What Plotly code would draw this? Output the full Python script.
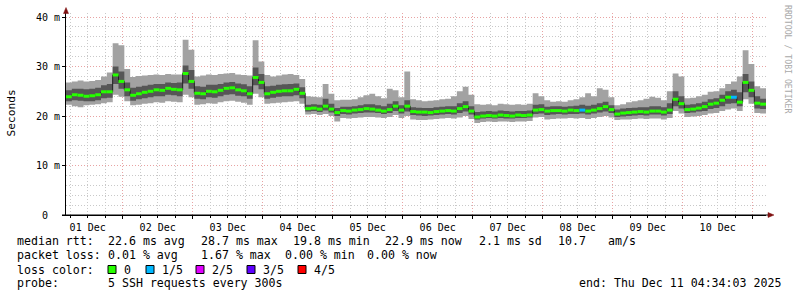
import pandas as pd
import plotly.graph_objects as go

# ---------------- data (milliseconds), 2-hour bins ----------------
start = "2025-12-01 04:34:03"
end = "2025-12-11 04:34:03"
bin_hours = 2

median_ms = [
    23.9, 24.3, 24.2, 24.0, 24.1, 24.3, 24.9, 24.9, 28.3, 27.0,
    25.3, 24.2, 24.5, 24.8, 25.0, 25.3, 25.2, 25.6, 25.4, 25.3,
    28.6, 27.0, 24.6, 24.5, 25.0, 24.9, 25.2, 25.6, 25.7, 25.3,
    25.1, 24.5, 27.8, 26.8, 24.5, 24.8, 25.0, 25.1, 25.1, 25.4,
    24.6, 21.5, 21.6, 21.4, 22.0, 21.4, 20.7, 21.1, 21.0, 21.2,
    21.3, 21.5, 21.4, 21.2, 21.0, 21.3, 22.0, 21.2, 22.0, 20.9,
    20.8, 20.8, 20.7, 20.9, 21.0, 21.1, 21.0, 21.5, 21.9, 21.0,
    19.8, 20.0, 20.1, 20.0, 20.2, 20.1, 20.0, 20.2, 20.1, 20.2,
    21.2, 21.3, 21.0, 21.1, 21.1, 21.0, 21.2, 21.1, 21.2, 21.0,
    21.2, 21.5, 21.9, 21.3, 20.4, 20.6, 20.7, 20.8, 20.9, 20.8,
    21.0, 21.0, 20.8, 21.2, 23.4, 22.5, 21.3, 21.4, 21.6, 21.9,
    22.4, 22.6, 23.2, 23.8, 23.8, 22.8, 26.8, 25.2, 22.6, 22.4,
]
ping_min_ms = [
    22.3, 22.0, 21.8, 22.2, 22.3, 22.4, 22.6, 22.8, 24.3, 23.9,
    23.0, 22.2, 22.3, 22.5, 22.6, 22.8, 22.7, 23.0, 22.9, 22.8,
    24.3, 23.8, 22.3, 22.4, 22.6, 22.5, 22.8, 23.0, 23.1, 22.9,
    22.7, 22.3, 24.5, 23.8, 22.5, 22.6, 22.7, 22.8, 22.9, 23.0,
    22.5, 20.3, 20.4, 20.2, 20.4, 20.0, 18.9, 19.6, 19.5, 19.6,
    19.7, 19.8, 19.8, 19.7, 19.6, 19.8, 20.2, 19.6, 20.0, 19.3,
    19.2, 19.2, 19.3, 19.4, 19.5, 19.6, 19.5, 19.7, 20.0, 19.4,
    18.6, 18.8, 18.9, 18.8, 18.9, 18.9, 18.8, 18.9, 18.9, 19.0,
    19.7, 19.8, 19.3, 19.4, 19.5, 19.5, 19.6, 19.5, 19.6, 19.4,
    19.6, 19.8, 20.0, 19.7, 19.2, 19.3, 19.3, 19.4, 19.5, 19.4,
    19.5, 19.5, 19.3, 19.6, 21.0, 20.5, 19.8, 19.9, 20.0, 20.2,
    20.5, 20.6, 21.0, 21.3, 21.5, 21.0, 23.4, 22.5, 20.6, 20.5,
]
ping_low_ms = [
    23.0, 23.2, 23.1, 23.0, 23.0, 23.2, 23.6, 23.7, 26.5, 25.5,
    24.0, 23.1, 23.4, 23.6, 23.8, 24.0, 24.0, 24.3, 24.2, 24.0,
    26.6, 25.5, 23.5, 23.4, 23.8, 23.7, 24.0, 24.3, 24.4, 24.1,
    24.0, 23.5, 26.2, 25.4, 23.5, 23.7, 23.9, 24.0, 24.0, 24.2,
    23.6, 20.9, 21.0, 20.8, 21.1, 20.7, 20.0, 20.4, 20.3, 20.5,
    20.6, 20.7, 20.7, 20.6, 20.4, 20.6, 21.0, 20.5, 20.9, 20.2,
    20.1, 20.0, 20.1, 20.2, 20.3, 20.4, 20.3, 20.6, 20.9, 20.3,
    19.3, 19.5, 19.6, 19.5, 19.6, 19.5, 19.5, 19.6, 19.6, 19.7,
    20.4, 20.5, 20.2, 20.3, 20.4, 20.3, 20.4, 20.4, 20.5, 20.3,
    20.5, 20.7, 20.9, 20.6, 19.8, 19.9, 20.0, 20.1, 20.2, 20.1,
    20.3, 20.3, 20.1, 20.4, 22.0, 21.5, 20.6, 20.7, 20.9, 21.0,
    21.4, 21.6, 22.0, 22.5, 22.6, 22.0, 24.8, 23.8, 21.5, 21.4,
]
ping_high_ms = [
    25.2, 25.5, 25.5, 25.4, 25.5, 25.7, 26.2, 26.5, 30.0, 29.0,
    26.8, 25.7, 25.9, 26.1, 26.3, 26.5, 26.5, 26.8, 26.7, 26.8,
    30.2, 29.3, 26.0, 25.9, 26.3, 26.3, 26.5, 26.8, 26.9, 26.6,
    26.4, 26.0, 29.8, 28.5, 26.0, 26.1, 26.3, 26.4, 26.5, 26.6,
    25.8, 22.3, 22.4, 22.3, 23.5, 22.5, 21.6, 21.9, 21.9, 22.0,
    22.2, 22.4, 22.4, 22.2, 22.0, 22.5, 23.0, 22.2, 23.2, 21.8,
    21.7, 21.6, 21.6, 21.8, 21.9, 22.0, 22.0, 22.6, 23.0, 22.0,
    20.8, 20.9, 21.0, 20.9, 21.1, 21.0, 20.9, 21.0, 21.0, 21.1,
    22.3, 22.4, 21.9, 22.0, 22.0, 21.9, 22.0, 22.1, 22.3, 22.1,
    22.3, 22.6, 22.9, 22.2, 21.3, 21.5, 21.6, 21.7, 21.8, 21.8,
    22.0, 22.0, 21.8, 22.6, 25.0, 24.0, 22.3, 22.4, 22.6, 22.9,
    23.4, 23.6, 24.3, 25.0, 25.3, 24.8, 28.5, 27.0, 24.0, 23.5,
]
ping_max_ms = [
    26.8, 27.0, 27.2, 27.0, 27.1, 27.3, 28.0, 28.8, 34.7, 34.3,
    29.5, 27.9, 28.1, 28.2, 28.3, 28.4, 28.3, 28.5, 28.4, 28.4,
    35.4, 33.4, 28.0, 28.2, 28.4, 28.3, 28.5, 28.6, 28.7, 28.4,
    28.3, 28.2, 35.3, 31.0, 28.3, 28.0, 28.2, 28.4, 28.5, 28.3,
    27.5, 24.0, 23.9, 23.8, 26.5, 24.5, 23.2, 23.3, 23.3, 23.4,
    23.8, 24.2, 24.5, 24.0, 23.6, 25.5, 25.2, 23.8, 29.0, 23.4,
    23.2, 23.0, 23.1, 23.2, 23.4, 23.5, 24.0, 25.0, 25.9, 24.3,
    22.4, 22.3, 22.4, 22.2, 22.5, 22.4, 22.3, 22.4, 22.3, 22.5,
    24.6, 24.0, 23.2, 22.9, 23.0, 22.9, 23.2, 23.4, 23.8, 24.6,
    24.0, 25.6, 25.3, 23.8, 22.2, 22.4, 22.8, 23.0, 23.2, 23.5,
    23.9, 23.7, 23.2, 25.0, 28.6, 28.0, 23.6, 23.7, 24.0, 24.3,
    24.9, 25.0, 25.6, 26.5, 27.0, 28.0, 33.3, 30.5, 26.0, 25.6,
]
# lost pings out of 5 per bin
loss_fifths = [0] * 120
loss_fifths[88] = 1
loss_fifths[114] = 1

loss_labels = ["0", "1/5", "2/5", "3/5", "4/5"]
loss_colors = ["#26ff00", "#00b8ff", "#e000ff", "#5e00ff", "#ff0000"]

y_tick_vals = [0, 10, 20, 30, 40]
y_tick_text = ["0\u00a0\u00a0", "10 m", "20 m", "30 m", "40 m"]

stats_rtt = ["22.6 ms avg", "28.7 ms max", "19.8 ms min", "22.9 ms now", "2.1 ms sd", "10.7", "am/s"]
stats_loss = ["0.01 % avg", "1.67 % max", "0.00 % min", "0.00 % now"]
probe_text = "5 SSH requests every 300s"
end_text = "end: Thu Dec 11 04:34:03 2025"

# ---------------- build ----------------
edges = pd.date_range(start, periods=len(median_ms) + 1, freq=f"{bin_hours}h")
ex = [e.strftime("%Y-%m-%d %H:%M:%S") for e in edges]


def step(vals):
    return ex, list(vals) + [vals[-1]]


LIGHT = "#a2a2a2"
DARK = "#565656"
MONO = "DejaVu Sans Mono"

fig = go.Figure()
# outer smoke
x, y = step(ping_min_ms)
fig.add_trace(go.Scatter(x=x, y=y, mode="lines", line=dict(width=0, shape="hv", color=LIGHT),
                         hoverinfo="skip", showlegend=False))
x, y = step(ping_max_ms)
fig.add_trace(go.Scatter(x=x, y=y, mode="lines", line=dict(width=0, shape="hv", color=LIGHT),
                         fill="tonexty", fillcolor=LIGHT, hoverinfo="skip", showlegend=False))
# inner smoke
x, y = step(ping_low_ms)
fig.add_trace(go.Scatter(x=x, y=y, mode="lines", line=dict(width=0, shape="hv", color=DARK),
                         hoverinfo="skip", showlegend=False))
x, y = step(ping_high_ms)
fig.add_trace(go.Scatter(x=x, y=y, mode="lines", line=dict(width=0, shape="hv", color=DARK),
                         fill="tonexty", fillcolor=DARK, hoverinfo="skip", showlegend=False))
# median thin line
x, y = step(median_ms)
fig.add_trace(go.Scatter(x=x, y=y, mode="lines", line=dict(width=1, shape="hv", color="#202020"),
                         hoverinfo="skip", showlegend=False))
# median loss-colored bars
for lvl, col in enumerate(loss_colors):
    xs, ys = [], []
    for i, m in enumerate(median_ms):
        if loss_fifths[i] == lvl:
            xs += [ex[i], ex[i + 1], None]
            ys += [m, m, None]
    if xs:
        fig.add_trace(go.Scatter(x=xs, y=ys, mode="lines", line=dict(width=3, color=col),
                                 hoverinfo="skip", showlegend=False))

# ---------------- layout ----------------
L, R, T, B = 66, 31, 13, 82
W, H = 797, 297
PW = W - L - R
PH = H - T - B
Y0 = H - B  # pixel y of plot bottom


def pxx(px):
    return (px - L) / PW


def pxy(py):
    return (Y0 - py) / PH


GRID_MINOR = "#c9c9c9"
GRID_MAJOR = "#e8a3a3"
DASH = "1px,2px"

fig.update_layout(
    width=W, height=H,
    margin=dict(l=L, r=R, t=T, b=B, pad=0),
    paper_bgcolor="white", plot_bgcolor="white",
    showlegend=False,
    xaxis=dict(
        type="date", range=[start, end],
        tick0="2025-12-01", dtick=86400000, tickformat="%d %b", ticklabelmode="period",
        showgrid=True, gridcolor=GRID_MAJOR, griddash=DASH, gridwidth=1,
        minor=dict(dtick=6 * 3600000, tick0="2025-12-01", showgrid=True, gridcolor=GRID_MINOR,
                   griddash=DASH, gridwidth=1, ticks="outside", ticklen=2, tickcolor="#000"),
        ticks="outside", ticklen=3, tickcolor="#000",
        showline=True, linecolor="#000", linewidth=1, zeroline=False,
        tickfont=dict(family=MONO, size=10, color="#000"),
    ),
    yaxis=dict(
        range=[0, 40 + 4 * 40.0 / (Y0 - 17 - 4)],
        tickvals=y_tick_vals, ticktext=y_tick_text,
        showgrid=True, gridcolor=GRID_MAJOR, griddash=DASH, gridwidth=1,
        minor=dict(dtick=2, tick0=0, showgrid=True, gridcolor=GRID_MINOR, griddash=DASH, gridwidth=1),
        ticks="outside", ticklen=3, tickcolor="#000",
        showline=True, linecolor="#000", linewidth=1, zeroline=False,
        tickfont=dict(family=MONO, size=10, color="#000"),
    ),
)

ann = []


def txt(s, px, py, size=11.6, anchor="left", color="#000", angle=0, yanchor="middle"):
    ann.append(dict(text=s, x=pxx(px), y=pxy(py), xref="paper", yref="paper",
                    xanchor=anchor, yanchor=yanchor, showarrow=False, textangle=angle,
                    borderpad=0, font=dict(family=MONO, size=size, color=color)))


txt("Seconds", 11, 113.5, size=11.2, anchor="center", angle=-90)
txt("RRDTOOL / TOBI OETIKER", 788, 59, size=8.2, anchor="center", color="#a9a9a9", angle=90)

row1, row2, row3, row4 = 241, 255, 269.5, 283
txt("median rtt:", 16, row1)
for s, px in zip(stats_rtt, [107, 200, 292, 384, 478, 557, 607]):
    txt(s, px, row1)
txt("packet loss:", 16, row2)
for s, px in zip(stats_loss, [107, 200, 284, 366]):
    txt(s, px, row2)
txt("loss color:", 16, row3)
shapes = []
for lab, col, px in zip(loss_labels, loss_colors, [108, 146, 196, 247, 298]):
    shapes.append(dict(type="rect", xref="paper", yref="paper",
                       x0=pxx(px), x1=pxx(px + 8), y0=pxy(row3 + 4), y1=pxy(row3 - 4),
                       fillcolor=col, line=dict(color="#000", width=1)))
    txt(lab, px + 15, row3)
txt("probe:", 16, row4)
txt(probe_text, 107, row4)
txt(end_text, 578, row4)

# axis extensions and arrows
AR = "#7f1010"
shapes.append(dict(type="line", xref="paper", yref="paper", x0=pxx(62), x1=pxx(769), y0=0, y1=0,
                   line=dict(color="#000", width=1)))
shapes.append(dict(type="path", xref="paper", yref="paper",
                   path=f"M {pxx(63.5)} {pxy(13.5)} L {pxx(68.5)} {pxy(13.5)} L {pxx(66)} {pxy(7.5)} Z",
                   fillcolor=AR, line=dict(color=AR, width=0.5)))
shapes.append(dict(type="path", xref="paper", yref="paper",
                   path=f"M {pxx(768)} {pxy(212.5)} L {pxx(768)} {pxy(217.5)} L {pxx(774)} {pxy(215)} Z",
                   fillcolor=AR, line=dict(color=AR, width=0.5)))

fig.update_layout(annotations=ann, shapes=shapes)
fig.write_html("out.html")
